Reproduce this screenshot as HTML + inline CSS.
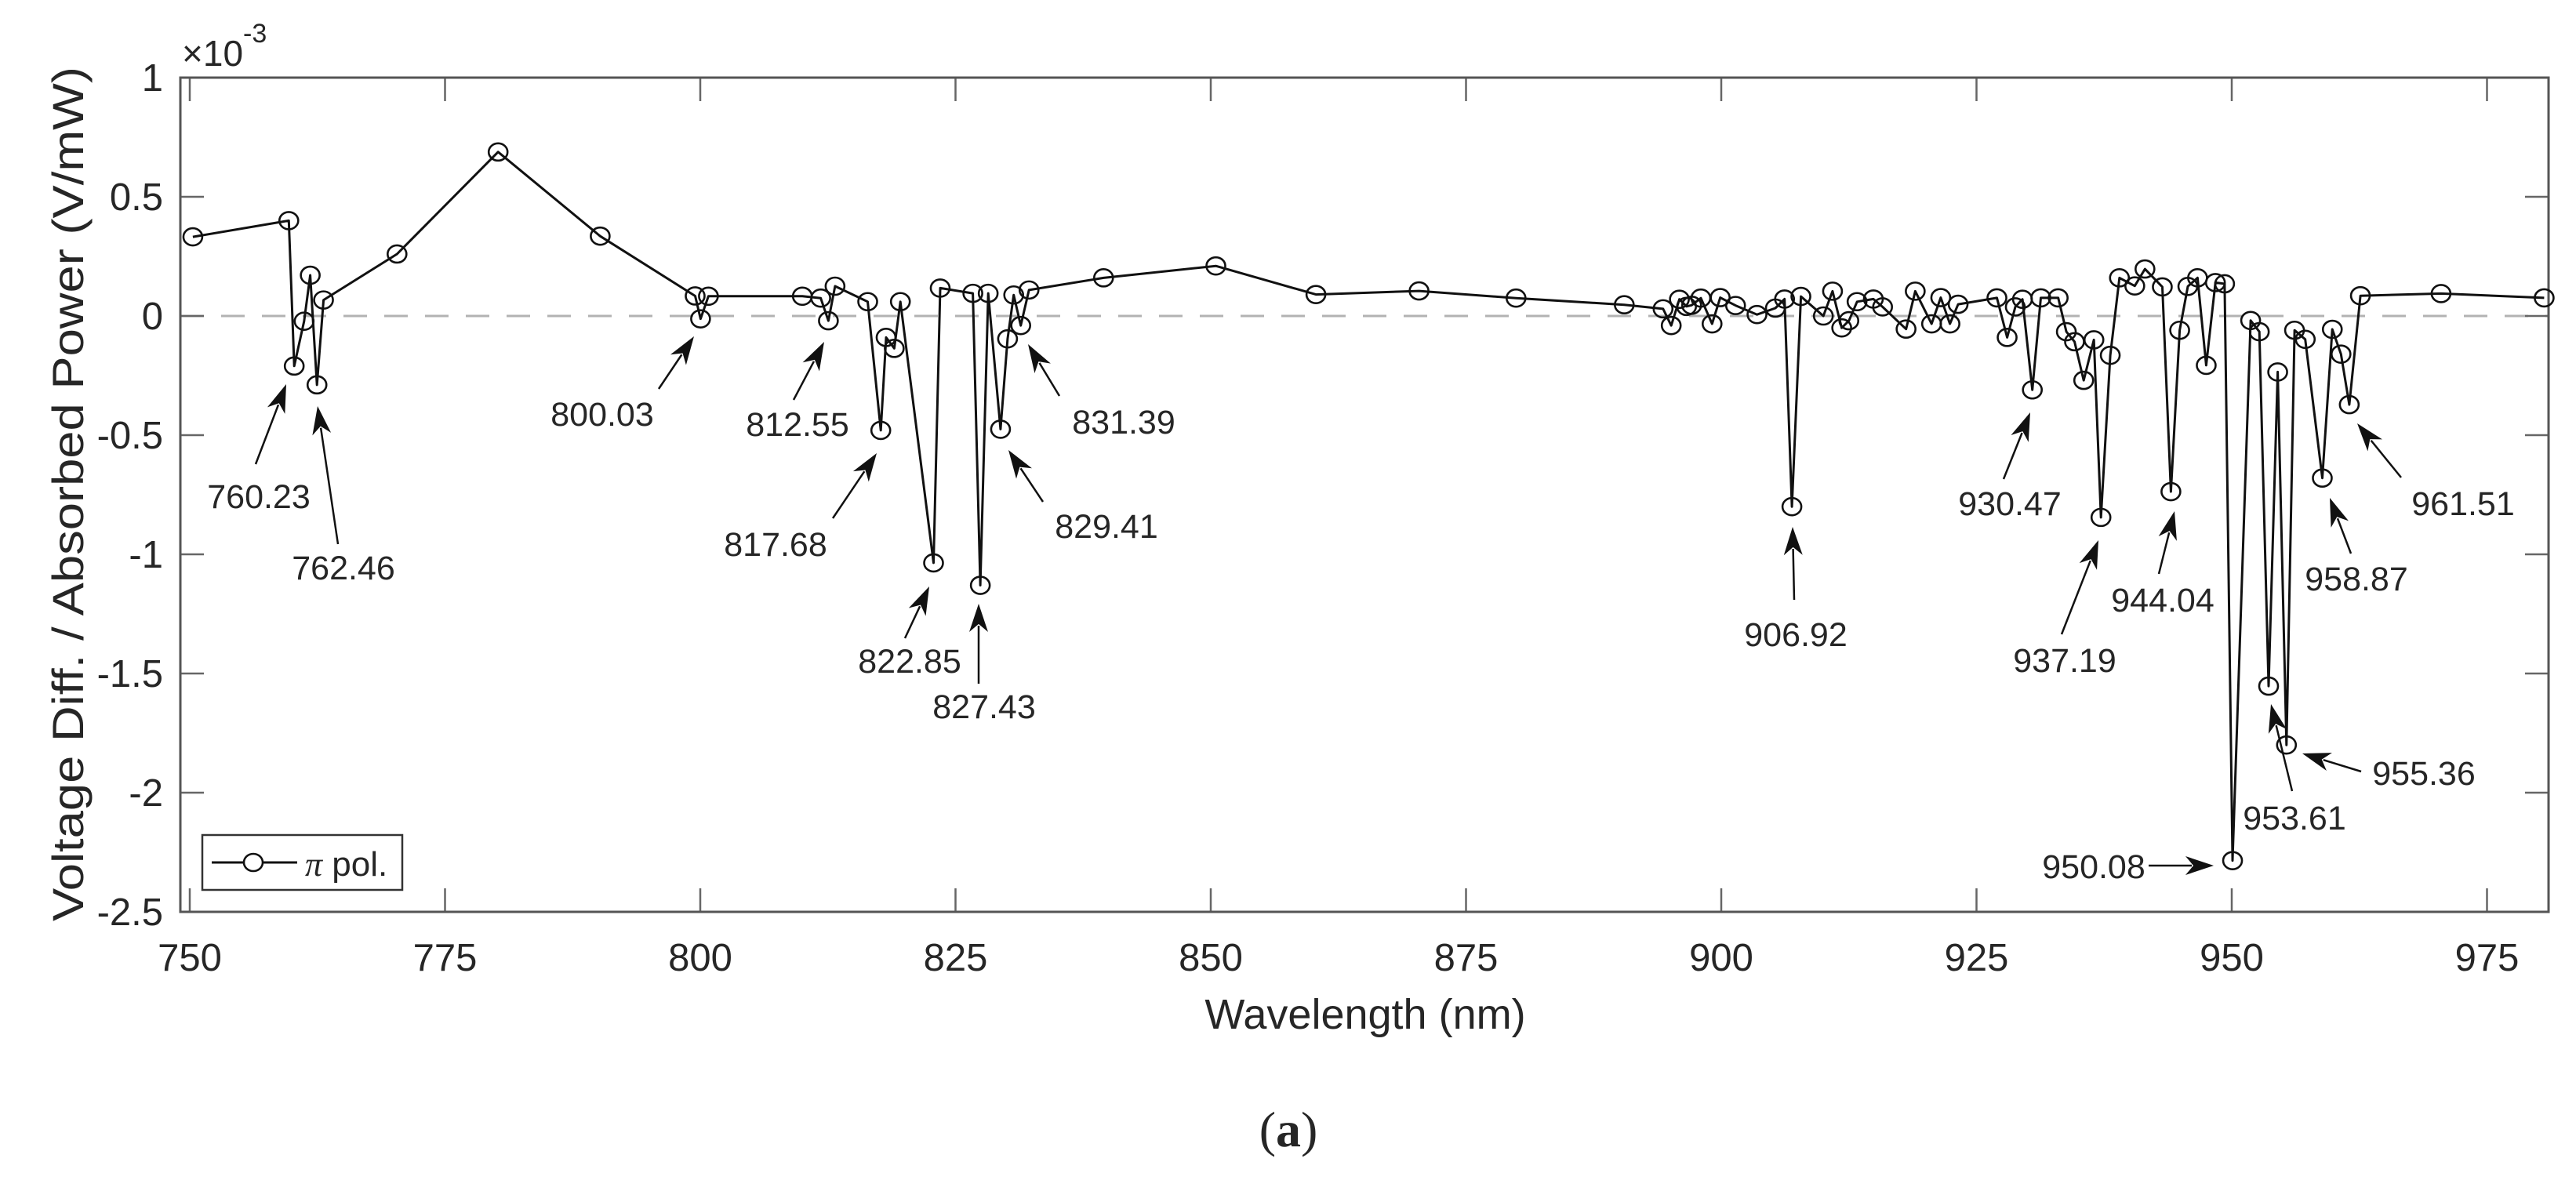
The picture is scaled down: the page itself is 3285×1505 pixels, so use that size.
<!DOCTYPE html>
<html><head><meta charset="utf-8"><style>
html,body{margin:0;padding:0;background:#fff;}
svg{display:block;}
text{font-family:"Liberation Sans",Arial,sans-serif;fill:#262626;}
</style></head><body>
<svg id="chart" width="3285" height="1505" viewBox="0 0 3285 1505" xmlns="http://www.w3.org/2000/svg">
<rect x="0" y="0" width="3285" height="1505" fill="#fff"/>
<g id="grid"></g>
</svg>
<script>
const wavelengths = [750.3,759.7,760.23,761.2,761.8,762.46,763.1,770.3,780.2,790.2,799.5,800.03,800.8,810.0,811.8,812.55,813.2,816.4,817.68,818.2,819.0,819.6,822.85,823.5,826.7,827.43,828.2,829.41,830.1,830.7,831.39,832.2,839.5,850.5,860.3,870.4,879.9,890.5,894.3,895.1,895.9,896.6,897.1,898.0,899.1,899.9,901.4,903.5,905.3,906.2,906.92,907.8,910.0,910.9,911.8,912.5,913.3,914.9,915.8,918.1,919.0,920.6,921.5,922.4,923.2,927.0,928.0,928.8,929.5,930.47,931.3,933.0,933.8,934.6,935.5,936.5,937.19,938.1,939.0,940.5,941.5,943.2,944.04,944.9,945.7,946.65,947.5,948.4,949.3,950.08,951.85,952.7,953.61,954.5,955.36,956.15,957.2,958.87,959.85,960.7,961.51,962.6,970.5,980.6];
const signal = [0.332,0.40,-0.21,-0.022,0.171,-0.289,0.067,0.26,0.688,0.335,0.084,-0.012,0.083,0.083,0.075,-0.02,0.125,0.06,-0.48,-0.09,-0.136,0.06,-1.036,0.117,0.095,-1.13,0.095,-0.475,-0.096,0.088,-0.04,0.109,0.16,0.21,0.09,0.105,0.075,0.047,0.03,-0.04,0.07,0.04,0.045,0.075,-0.033,0.077,0.044,0.006,0.033,0.071,-0.80,0.082,0.0,0.104,-0.05,-0.02,0.06,0.071,0.038,-0.055,0.104,-0.033,0.077,-0.033,0.049,0.076,-0.09,0.038,0.07,-0.31,0.076,0.076,-0.066,-0.108,-0.27,-0.10,-0.845,-0.165,0.16,0.126,0.197,0.122,-0.737,-0.06,0.124,0.16,-0.207,0.14,0.135,-2.285,-0.019,-0.066,-1.553,-0.235,-1.80,-0.06,-0.098,-0.68,-0.056,-0.16,-0.372,0.085,0.094,0.076];
const xTicks = [750,775,800,825,850,875,900,925,950,975];
const yTicks = [1,0.5,0,-0.5,-1,-1.5,-2,-2.5];
const yTickLabels = ["1","0.5","0","-0.5","-1","-1.5","-2","-2.5"];
const annLabels = ["760.23","762.46","800.03","812.55","817.68","822.85","827.43","829.41","831.39","906.92","930.47","937.19","944.04","950.08","953.61","955.36","958.87","961.51"];

const NS="http://www.w3.org/2000/svg";
const svg=document.getElementById('chart');
const L=230,R=3250,T=99,B=1163;
const X0=750,XPX=13.02,XOFF=242;
function sx(v){return XOFF+(v-X0)*XPX;}
function sy(v){return 403-(v)*304;}
function mk(tag,attrs,parent){const e=document.createElementNS(NS,tag);for(const k in attrs)e.setAttribute(k,attrs[k]);(parent||svg).appendChild(e);return e;}

let zl=mk('line',{x1:L,x2:R,y1:sy(0),y2:sy(0),stroke:'#b3b3b3','stroke-width':3,'stroke-dasharray':'30 22'});



xTicks.forEach(v=>{
  const x=sx(v);
  let t1=mk('line',{x1:x,x2:x,y1:B,y2:B-30,stroke:'#666','stroke-width':2.5});
  
  
  let t2=mk('line',{x1:x,x2:x,y1:T,y2:T+30,stroke:'#666','stroke-width':2.5});
  
  
  let tl=mk('text',{x:x,y:1238,'font-size':49,'text-anchor':'middle'});
  tl.textContent=String(v);
  
  
});
yTicks.forEach((v,i)=>{
  const y=sy(v);
  let t1=mk('line',{x1:L,x2:L+30,y1:y,y2:y,stroke:'#666','stroke-width':2.5});
  
  
  let t2=mk('line',{x1:R,x2:R-30,y1:y,y2:y,stroke:'#666','stroke-width':2.5});
  
  
  let tl=mk('text',{x:208,y:y+17,'font-size':49,'text-anchor':'end'});
  tl.textContent=yTickLabels[i];
  
  
});

let box=mk('rect',{x:L,y:T,width:R-L,height:B-T,fill:'none',stroke:'#555','stroke-width':3});



let d='';
wavelengths.forEach((w,i)=>{d+=(i?'L':'M')+sx(w).toFixed(1)+' '+sy(signal[i]).toFixed(1);});
let pl=mk('path',{d:d,fill:'none',stroke:'#111','stroke-width':3,'stroke-linejoin':'round'});


wavelengths.forEach((w,i)=>{
  let c=mk('ellipse',{cx:sx(w),cy:sy(signal[i]),rx:12,ry:11,fill:'none',stroke:'#111','stroke-width':2.6});
  
  
});

const annPos=[[330,633,326,592,365,490],[438,724,431,694,405,518],[768,528,840,496,885,429],[1017,541,1012,510,1051,436],[989,694,1062,661,1118,578],[1160,843,1154,814,1185,748],[1255,901,1248,872,1248,770],[1411,671,1330,640,1286,574],[1433,538,1351,505,1311,439],[2290,809,2288,765,2286,672],[2563,642,2555,611,2589,526],[2633,842,2629,809,2676,689],[2758,765,2753,732,2773,652],[2670,1105,2740,1104,2823,1104],[2926,1043,2923,1009,2896,898],[3091,986,3011,984,2936,961],[3005,738,2998,706,2971,635],[3141,642,3062,609,3006,540]];
annLabels.forEach((lab,i)=>{
  const p=annPos[i];
  const g=mk('g',{});
  
  
  const t=mk('text',{x:p[0],y:p[1]+15,'font-size':43,'text-anchor':'middle'},g);
  t.textContent=lab;
  const dx=p[4]-p[2],dy=p[5]-p[3],len=Math.hypot(dx,dy),ux=dx/len,uy=dy/len;
  const hl=36,hw=12;
  const bx=p[4]-ux*hl,by=p[5]-uy*hl;
  mk('line',{x1:p[2],y1:p[3],x2:bx+ux*8,y2:by+uy*8,stroke:'#111','stroke-width':2.5},g);
  const nx=-uy,ny=ux;
  const ix=p[4]-ux*hl*0.72,iy=p[5]-uy*hl*0.72;
  mk('path',{d:`M${p[4]} ${p[5]} L${bx+nx*hw} ${by+ny*hw} L${ix} ${iy} L${bx-nx*hw} ${by-ny*hw} Z`,fill:'#111'},g);
});
</script>
<svg style="position:absolute;left:0;top:0" width="3285" height="1505" xmlns="http://www.w3.org/2000/svg">
<text x="232" y="84" font-size="46" fill="#262626" style="font-family:'Liberation Sans',sans-serif">×10<tspan dy="-30" font-size="34">-3</tspan></text>
<text x="1741" y="1312" font-size="54" text-anchor="middle" fill="#262626" style="font-family:'Liberation Sans',sans-serif">Wavelength (nm)</text>
<text x="0" y="0" font-size="56" text-anchor="middle" fill="#262626" transform="translate(106,630) rotate(-90)" textLength="1090" lengthAdjust="spacingAndGlyphs" style="font-family:'Liberation Sans',sans-serif">Voltage Diff. / Absorbed Power (V/mW)</text>
<g>
<rect x="258" y="1065" width="255" height="70" fill="#fff" stroke="#333" stroke-width="2.5"/>
<line x1="270" y1="1100" x2="379" y2="1100" stroke="#111" stroke-width="3"/>
<ellipse cx="323" cy="1100" rx="12" ry="11" fill="#fff" stroke="#111" stroke-width="2.6"/>
<text x="389" y="1117" font-size="44" fill="#111" style="font-family:'Liberation Sans',sans-serif"><tspan font-style="italic" style="font-family:'Liberation Serif',serif">π</tspan> pol.</text>
</g>
<text x="1643" y="1462" font-size="64" text-anchor="middle" fill="#111" style="font-family:'Liberation Serif',serif">(<tspan font-weight="bold">a</tspan>)</text>
</svg>
</body></html>
